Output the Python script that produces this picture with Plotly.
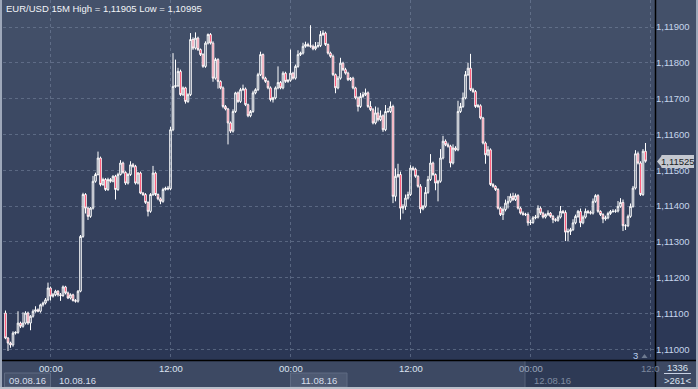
import pandas as pd
import plotly.graph_objects as go

# ---------------- data (prices in points above 1.10000, 1 point = 0.00001) ----------------
start_time = "2016-08-09 19:30"
first_open = 1101
closes = [
    1031, 1017, 1012, 1045, 1047, 1073, 1064, 1073, 1101, 1073,
    1092, 1106, 1110, 1106, 1124, 1129, 1138, 1171, 1148, 1152,
    1162, 1152, 1150, 1174, 1157, 1143, 1152, 1136, 1134, 1162,
    1315, 1432, 1394, 1371, 1394, 1469, 1488, 1534, 1460, 1474,
    1446, 1474, 1469, 1483, 1446, 1488, 1520, 1494, 1464, 1488,
    1515, 1511, 1464, 1492, 1436, 1432, 1410, 1385, 1432, 1492,
    1432, 1420, 1413, 1446, 1450, 1448, 1613, 1734, 1736, 1776,
    1711, 1730, 1692, 1711, 1865, 1841, 1869, 1837, 1823, 1790,
    1855, 1879, 1855, 1757, 1809, 1748, 1730, 1678, 1671, 1632,
    1609, 1664, 1716, 1692, 1725, 1727, 1683, 1652, 1664, 1716,
    1725, 1767, 1823, 1757, 1748, 1730, 1697, 1702, 1730, 1745,
    1730, 1771, 1748, 1751, 1771, 1757, 1790, 1823, 1827, 1846,
    1851, 1848, 1846, 1839, 1846, 1848, 1879, 1883, 1851, 1827,
    1818, 1767, 1730, 1757, 1799, 1781, 1771, 1753, 1757, 1730,
    1702, 1678, 1706, 1711, 1716, 1678, 1669, 1632, 1660, 1641,
    1652, 1613, 1664, 1664, 1678, 1427, 1483, 1488, 1394, 1399,
    1422, 1432, 1506, 1503, 1483, 1455, 1392, 1399, 1438, 1474,
    1520, 1488, 1464, 1469, 1534, 1581, 1571, 1567, 1520, 1562,
    1557, 1664, 1678, 1702, 1767, 1785, 1725, 1720, 1678, 1680,
    1646, 1576, 1543, 1557, 1460, 1455, 1446, 1394, 1376, 1390,
    1408, 1413, 1427, 1418, 1429, 1394, 1380, 1377, 1376, 1353,
    1354, 1367, 1369, 1394, 1380, 1369, 1376, 1380, 1371, 1362,
    1360, 1369, 1385, 1382, 1327, 1329, 1334, 1353, 1371, 1385,
    1353, 1369, 1385, 1382, 1380, 1413, 1429, 1385, 1376, 1364,
    1367, 1379, 1385, 1385, 1386, 1399, 1410, 1345, 1345, 1371,
    1399, 1450, 1546, 1520, 1432, 1553, 1525,
]
upper_wick = [
    7, 3, 4, 5, 3, 33, 4, 30, 5, 4,
    3, 5, 10, 4, 3, 4, 5, 15, 4, 5,
    4, 3, 5, 4, 3, 4, 4, 3, 4, 3,
    4, 5, 4, 3, 3, 15, 5, 18, 4, 5,
    4, 5, 4, 3, 4, 5, 8, 4, 3, 4,
    10, 5, 4, 3, 4, 3, 4, 3, 4, 20,
    4, 3, 4, 5, 4, 6, 8, 93, 73, 10,
    5, 4, 3, 4, 18, 6, 16, 4, 3, 4,
    5, 3, 4, 5, 5, 4, 3, 4, 4, 3,
    4, 6, 3, 4, 5, 12, 4, 3, 4, 6,
    4, 5, 8, 3, 4, 3, 4, 3, 4, 45,
    4, 5, 4, 3, 66, 4, 5, 12, 4, 10,
    8, 5, 57, 5, 12, 10, 10, 8, 4, 3,
    4, 5, 3, 6, 15, 4, 5, 4, 3, 4,
    3, 4, 10, 8, 12, 4, 15, 5, 18, 15,
    15, 4, 18, 10, 14, 5, 22, 30, 8, 6,
    10, 8, 8, 5, 4, 3, 6, 4, 15, 10,
    25, 4, 3, 4, 25, 15, 5, 6, 4, 10,
    5, 30, 10, 15, 10, 15, 40, 5, 4, 5,
    4, 3, 4, 10, 4, 4, 3, 4, 4, 6,
    10, 15, 8, 10, 6, 4, 4, 5, 4, 6,
    8, 5, 6, 8, 5, 4, 3, 8, 3, 4,
    4, 5, 15, 4, 6, 8, 5, 10, 5, 4,
    8, 5, 8, 4, 5, 8, 4, 4, 3, 4,
    6, 5, 4, 6, 5, 15, 12, 8, 4, 5,
    8, 6, 10, 6, 5, 6, 23,
]
lower_wick = [
    3, 22, 8, 5, 4, 4, 5, 4, 4, 5,
    20, 4, 4, 3, 4, 5, 4, 4, 12, 4,
    4, 5, 15, 4, 4, 3, 4, 3, 4, 4,
    3, 4, 15, 10, 4, 4, 4, 3, 5, 4,
    4, 4, 4, 3, 28, 4, 3, 4, 5, 4,
    4, 4, 4, 4, 3, 4, 4, 14, 4, 4,
    4, 4, 8, 4, 3, 4, 4, 4, 4, 4,
    4, 4, 6, 4, 4, 5, 4, 4, 4, 4,
    4, 4, 4, 10, 4, 20, 4, 5, 4, 60,
    5, 4, 4, 4, 4, 4, 4, 4, 4, 4,
    4, 4, 4, 4, 4, 4, 5, 8, 4, 4,
    4, 4, 4, 4, 4, 4, 4, 4, 4, 4,
    4, 4, 4, 4, 4, 4, 4, 4, 4, 4,
    4, 4, 15, 4, 4, 4, 4, 4, 4, 4,
    4, 14, 4, 4, 4, 4, 4, 4, 4, 5,
    4, 6, 4, 4, 4, 19, 14, 4, 32, 15,
    10, 4, 4, 4, 4, 4, 12, 4, 4, 4,
    4, 4, 20, 51, 4, 4, 4, 4, 12, 4,
    4, 4, 4, 4, 4, 4, 4, 4, 4, 4,
    4, 4, 25, 4, 4, 4, 4, 4, 4, 15,
    5, 15, 4, 4, 4, 4, 4, 4, 4, 8,
    6, 4, 4, 4, 5, 4, 4, 4, 4, 10,
    4, 4, 4, 4, 25, 25, 10, 4, 4, 4,
    12, 4, 4, 4, 4, 4, 4, 4, 4, 12,
    5, 4, 4, 4, 4, 4, 4, 15, 12, 4,
    4, 4, 4, 4, 4, 4, 4,
]
y_tick_vals = [1.110, 1.111, 1.112, 1.113, 1.114, 1.115, 1.116, 1.117, 1.118, 1.119]
y_tick_text = ["1,11000", "1,11100", "1,11200", "1,11300", "1,11400",
               "1,11500", "1,11600", "1,11700", "1,11800", "1,11900"]
x_grid_times = ["2016-08-10 00:00", "2016-08-10 12:00", "2016-08-11 00:00",
                "2016-08-11 12:00", "2016-08-12 00:00", "2016-08-12 12:00"]
x_tick_text = ["00:00", "12:00", "00:00", "12:00", "00:00", "12:0"]
date_labels = ["09.08.16", "10.08.16", "11.08.16", "12.08.16"]
title_text = "EUR/USD 15M High = 1,11905 Low = 1,10995"
last_price_text = "1,11525"
last_price = 1.11525
bars_text = ["1336", ">261<"]

# ---------------- build OHLC ----------------
n = len(closes)
times = pd.date_range(start=start_time, periods=n, freq="15min")
opens = [first_open] + closes[:-1]
highs = [max(o, c) + u for o, c, u in zip(opens, closes, upper_wick)]
lows = [min(o, c) - d for o, c, d in zip(opens, closes, lower_wick)]
to_price = lambda arr: [1.1 + v / 100000 for v in arr]

W, H = 698, 389
L, R, T, B = 3, 43, 0, 29
PW, PH = W - L - R, H - T - B


def PX(px):
    return (px - L) / PW


def PY(py):
    return (H - B - py) / PH


FONT = "Liberation Sans, Arial, sans-serif"

fig = go.Figure()
fig.add_trace(go.Candlestick(
    x=times, open=to_price(opens), high=to_price(highs),
    low=to_price(lows), close=to_price(closes),
    increasing=dict(line=dict(color="#ffffff", width=1), fillcolor="rgba(0,0,0,0)"),
    decreasing=dict(line=dict(color="#ffffff", width=1), fillcolor="#ff0030"),
    whiskerwidth=0, hoverinfo="skip", showlegend=False,
))

shapes = []
# vertical gradient background
top_c = (68, 81, 106)
bot_c = (43, 55, 85)
nb = 36
for k in range(nb):
    t = k / (nb - 1)
    col = tuple(int(round(top_c[j] + (bot_c[j] - top_c[j]) * t)) for j in range(3))
    shapes.append(dict(type="rect", xref="paper", yref="paper",
                       x0=PX(0), x1=PX(W), y0=PY(k * 10 + 10.5), y1=PY(k * 10),
                       fillcolor="rgb(%d,%d,%d)" % col, line=dict(width=0), layer="below"))
# bottom panel
shapes.append(dict(type="rect", xref="paper", yref="paper", x0=PX(0), x1=PX(W),
                   y0=PY(H), y1=PY(360), fillcolor="#3d4963", line=dict(width=0), layer="below"))
shapes.append(dict(type="rect", xref="paper", yref="paper", x0=PX(525), x1=PX(655),
                   y0=PY(387), y1=PY(361), fillcolor="#2e3a55", line=dict(width=0), layer="below"))
shapes.append(dict(type="line", xref="paper", yref="paper", x0=PX(525), x1=PX(525),
                   y0=PY(387), y1=PY(361), line=dict(color="#56627a", width=1)))
# date boxes
shapes.append(dict(type="rect", xref="paper", yref="paper", x0=PX(4.5), x1=PX(50.5),
                   y0=PY(387), y1=PY(373), fillcolor="#46526b", line=dict(color="#5f6b83", width=1)))
shapes.append(dict(type="rect", xref="paper", yref="paper", x0=PX(290.5), x1=PX(347),
                   y0=PY(387), y1=PY(373), fillcolor="#4e5a73", line=dict(color="#5f6b83", width=1)))
# bottom-right separator line
shapes.append(dict(type="line", xref="paper", yref="paper", x0=PX(664), x1=PX(691),
                   y0=PY(373.5), y1=PY(373.5), line=dict(color="#c8d2e4", width=1)))
# black separators
shapes.append(dict(type="line", xref="paper", yref="paper", x0=PX(655.5), x1=PX(655.5),
                   y0=PY(H), y1=PY(0), line=dict(color="#000000", width=1.5)))
shapes.append(dict(type="line", xref="paper", yref="paper", x0=PX(0), x1=PX(W),
                   y0=PY(360.5), y1=PY(360.5), line=dict(color="#000000", width=1.5)))
# frame borders
shapes.append(dict(type="line", xref="paper", yref="paper", x0=PX(1), x1=PX(1),
                   y0=PY(H), y1=PY(0), line=dict(color="#9ea8ba", width=2)))
shapes.append(dict(type="line", xref="paper", yref="paper", x0=PX(697), x1=PX(697),
                   y0=PY(H), y1=PY(0), line=dict(color="#9ea8ba", width=2)))
shapes.append(dict(type="line", xref="paper", yref="paper", x0=PX(0), x1=PX(W),
                   y0=PY(388), y1=PY(388), line=dict(color="#b9bfca", width=2)))
# last price marker
shapes.append(dict(type="path", xref="paper", yref="paper",
                   path="M %f %f L %f %f L %f %f Z" % (PX(657), PY(161.5), PX(662), PY(155.5), PX(662), PY(167.5)),
                   fillcolor="#c4c8d0", line=dict(width=0)))
shapes.append(dict(type="rect", xref="paper", yref="paper", x0=PX(661.5), x1=PX(694),
                   y0=PY(168), y1=PY(155), fillcolor="#c4c8d0", line=dict(width=0)))
# small triangle near "3"
shapes.append(dict(type="path", xref="paper", yref="paper",
                   path="M %f %f L %f %f L %f %f Z" % (PX(641.5), PY(358), PX(647.5), PY(358), PX(644.5), PY(354)),
                   fillcolor="#6e7a90", line=dict(width=0)))

annotations = []


def ann(text, x, y, color, size=9.5, xanchor="center", **kw):
    annotations.append(dict(text=text, x=PX(x), y=PY(y), xref="paper", yref="paper",
                            xanchor=xanchor, yanchor="middle", showarrow=False,
                            font=dict(family=FONT, size=size, color=color), **kw))


ann(title_text, 3.5, 8.5, "#f2f4f8", xanchor="left")
# x tick labels (at the vertical grid positions)
x_label_px = [51, 171, 291, 411, 531, 650]
x_label_col = ["#dbe3f0", "#dbe3f0", "#dbe3f0", "#dbe3f0", "#9aa6bc", "#7d889e"]
for txt, xp, col in zip(x_tick_text, x_label_px, x_label_col):
    ann(txt, xp, 368.5, col)
ann(date_labels[0], 27.5, 380, "#d6deeb")
ann(date_labels[1], 77, 380, "#d6deeb")
ann(date_labels[2], 318.5, 380, "#d6deeb")
ann(date_labels[3], 552, 380, "#7f8aa0")
ann(last_price_text, 677.5, 161.5, "#1b1e24")
ann("3", 635.5, 355.5, "#b8cff0")
ann(bars_text[0], 677.5, 367.5, "#dbe3f0")
ann(bars_text[1], 677.5, 380, "#dbe3f0")

# axis ranges derived from pixel geometry of the reference
t0 = pd.Timestamp("2016-08-10 00:00")
x_left = t0 + pd.Timedelta(hours=(L - 50.5) / 10.0)
x_right = t0 + pd.Timedelta(hours=(L + PW - 50.5) / 10.0)
y_bottom = 1.119 - (360 - 27) / 35.8 * 0.001
y_top = 1.119 + 27 / 35.8 * 0.001

fig.update_layout(
    width=W, height=H,
    margin=dict(l=L, r=R, t=T, b=B),
    paper_bgcolor="#3d4963", plot_bgcolor="rgba(0,0,0,0)",
    shapes=shapes, annotations=annotations,
    showlegend=False, boxgap=0.1,
    xaxis=dict(range=[x_left, x_right], rangeslider=dict(visible=False),
               tickvals=pd.to_datetime(x_grid_times), showticklabels=False,
               showgrid=True, gridcolor="rgba(120,134,160,0.55)", griddash="3px,3px",
               gridwidth=1, zeroline=False, showline=False, ticks=""),
    yaxis=dict(range=[y_bottom, y_top], side="right", tickvals=y_tick_vals, ticktext=y_tick_text,
               showgrid=True, gridcolor="rgba(120,134,160,0.55)", griddash="3px,3px",
               gridwidth=1, zeroline=False, showline=False, ticks="",
               tickfont=dict(family=FONT, size=9.5, color="#c6d5ec")),
    hovermode=False,
)

fig.write_html("out.html")
